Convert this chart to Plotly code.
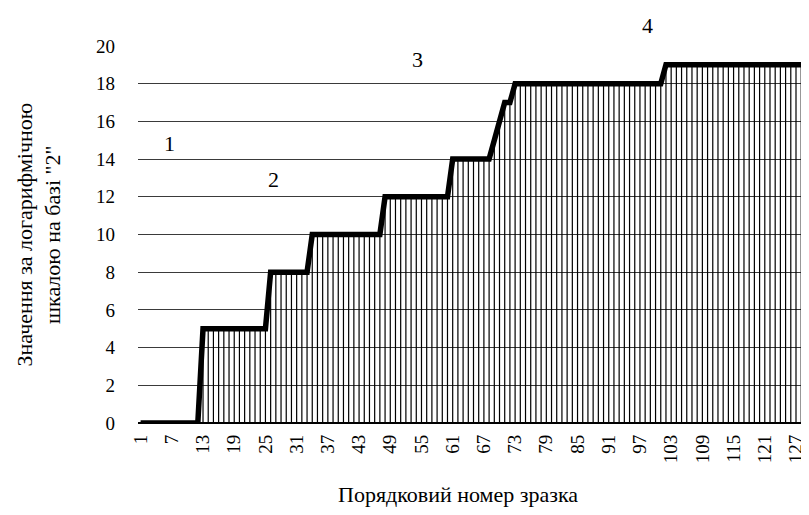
import plotly.graph_objects as go

# Data: sample number -> value on log scale base 2
samples = list(range(1, 130))
values = ([0] * 12 + [5] * 13 + [8] * 8 + [10] * 14 + [12] * 13 + [14] * 8
          + [15, 16, 17, 17] + [18] * 29 + [19] * 28)

tick_vals = list(range(1, 128, 6))
tick_text = [str(v) for v in tick_vals]

y_max = 20
label_text = ["1", "2", "3", "4"]
label_x = [6.6, 26.6, 54.3, 98.5]
label_y = [14.85, 12.9, 19.3, 21.1]

x_title = "Порядковий номер зразка"
y_title = "Значення за логарифмічною<br>шкалою на базі \"2\""

# drop lines (hatching)
hx, hy = [], []
for s, v in zip(samples, values):
    hx += [s, s, None]
    hy += [0, v, None]

fig = go.Figure()
fig.add_trace(go.Scatter(x=hx, y=hy, mode="lines",
                         line=dict(color="black", width=1.2),
                         hoverinfo="skip", showlegend=False))
fig.add_trace(go.Scatter(x=samples, y=values, mode="lines",
                         line=dict(color="black", width=5.5),
                         showlegend=False))

for t, x, y in zip(label_text, label_x, label_y):
    fig.add_annotation(x=x, y=y / y_max, xref="x", yref="paper", text=t,
                       showarrow=False, xanchor="center", yanchor="middle",
                       font=dict(family="Liberation Serif", size=22, color="black"))

font = dict(family="Liberation Serif", size=19, color="black")
title_font = dict(family="Liberation Serif", size=22, color="black")

fig.add_annotation(x=0.477, y=-0.19, xref="paper", yref="paper", text=x_title,
                   showarrow=False, xanchor="center", yanchor="middle", font=title_font)
fig.add_annotation(x=-0.149, y=0.5, xref="paper", yref="paper", text=y_title,
                   showarrow=False, xanchor="center", yanchor="middle",
                   textangle=-90, font=title_font)

fig.update_layout(
    width=801, height=507,
    margin=dict(l=130, r=0, t=38, b=92),
    paper_bgcolor="white", plot_bgcolor="white",
    font=font,
    xaxis=dict(range=[0.5, 129.5], tickvals=tick_vals, ticktext=tick_text,
               tickangle=-90, showgrid=False, zeroline=False, automargin=False,
               showline=False, ticks="", ticklabelstandoff=7, tickfont=font),
    yaxis=dict(range=[0, y_max], dtick=2, showgrid=True, gridcolor="#3a3a3a",
               gridwidth=1, zeroline=True, zerolinecolor="#000000",
               zerolinewidth=1.5, ticks="", ticklabelstandoff=22, automargin=False,
               tickfont=font),
)

fig.write_html("out.html")
